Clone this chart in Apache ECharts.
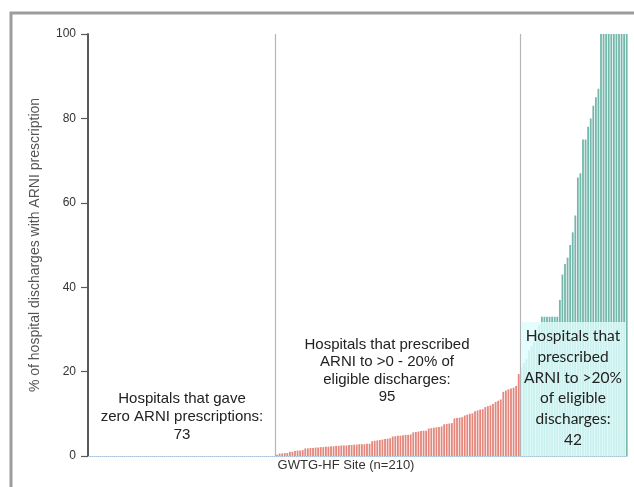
<!DOCTYPE html>
<html>
<head>
<meta charset="utf-8">
<script src="https://cdn.jsdelivr.net/npm/echarts@6/dist/echarts.min.js"></script>
<style>
  html, body { margin: 0; padding: 0; background: #fff; }
  #chart { width: 634px; height: 487px; }
</style>
</head>
<body>
<div id="chart"></div>
<script>
// hospitals sorted by % of eligible discharges with ARNI prescription
const zeroCount = 73
const lowValues = [
  0.3,
  0.6, 0.6, 0.7, 0.7,
  1.0, 1.0, 1.2, 1.3, 1.3, 1.4,
  1.8, 1.8, 1.9, 1.9, 2.0, 2.0, 2.1, 2.1, 2.2, 2.2,
  2.3, 2.3, 2.4, 2.4, 2.5, 2.5, 2.5, 2.6, 2.6, 2.7, 2.7, 2.8, 2.8, 2.8, 2.9, 2.9,
  3.5, 3.6, 3.7, 3.8, 3.9, 4.0, 4.1, 4.2,
  4.6, 4.7, 4.8, 4.8, 4.9, 5.0, 5.0, 5.1,
  5.6, 5.7, 5.8, 5.9, 6.0, 6.0,
  6.5, 6.6, 6.7, 6.8, 6.9, 7.0,
  7.5, 7.6, 7.7, 7.8,
  8.9, 9.0, 9.1, 9.2,
  9.6, 9.8, 10.0, 10.1,
  10.6, 10.8, 11.0, 11.1,
  11.6, 11.8, 12.0, 12.3,
  12.8, 13.1, 13.4,
  15.2, 15.5,
  15.8, 16.0, 16.2, 16.6,
  19.4
]
const highValues = [
  21, 22, 23, 25, 26, 27, 29, 31,
  33, 33, 33, 33, 33, 33, 33,
  37, 43, 45.5, 47, 50, 53, 57, 66, 67, 75, 75, 78, 80, 83, 85, 87,
  100, 100, 100, 100, 100, 100, 100, 100, 100, 100, 100
]
const yTicks = [0, 20, 40, 60, 80, 100]
const groupLabels = [
  'Hospitals that gave\nzero ARNI prescriptions:\n73',
  'Hospitals that prescribed\nARNI to >0 - 20% of\neligible discharges:\n95',
  'Hospitals that\nprescribed\nARNI to >20%\nof eligible\ndischarges:\n42'
]
const xTitle = 'GWTG-HF Site (n=210)'
const yTitle = '% of hospital discharges with ARNI prescription'

const total = zeroCount + lowValues.length + highValues.length
const lowStart = zeroCount
const highStart = zeroCount + lowValues.length

const toPairs = (arr, start) => arr.map((v, i) => [start + i + 0.5, v])

const chart = echarts.init(document.getElementById('chart'))

const option = {
  animation: false,
  grid: { left: 88, right: 6, top: 34, bottom: 31 },
  xAxis: {
    type: 'value',
    min: 0,
    max: total,
    axisLine: { show: true, lineStyle: { color: '#a8c2da', type: 'dotted', width: 1 } },
    axisTick: { show: false },
    axisLabel: { show: false },
    splitLine: { show: false }
  },
  yAxis: {
    type: 'value',
    min: yTicks[0],
    max: yTicks[yTicks.length - 1],
    interval: 20,
    offset: 2,
    name: yTitle,
    nameLocation: 'middle',
    nameGap: 44,
    nameTextStyle: { fontFamily: 'Liberation Sans', fontSize: 14, color: '#555' },
    axisLine: { show: true, lineStyle: { color: '#5a5a5a', width: 2 } },
    axisTick: { show: true, length: 7, lineStyle: { color: '#5a5a5a', width: 1.2 } },
    axisLabel: { fontFamily: 'Liberation Sans', fontSize: 12, color: '#333', margin: 10 },
    splitLine: { show: false }
  },
  series: [
    {
      type: 'bar',
      barWidth: 1.8,
      barGap: '-100%',
      itemStyle: { color: '#e4877d' },
      data: toPairs(lowValues, lowStart),
      markLine: {
        silent: true,
        symbol: 'none',
        label: { show: false },
        lineStyle: { color: '#b5b5b5', type: 'solid', width: 1.2 },
        data: [{ xAxis: lowStart }, { xAxis: highStart }]
      }
    },
    {
      type: 'bar',
      barWidth: 1.8,
      barGap: '-100%',
      itemStyle: { color: '#74b8ac' },
      data: toPairs(highValues, highStart)
    }
  ],
  graphic: [
    {
      type: 'rect',
      z: 0,
      shape: { x: 11, y: 13, width: 700, height: 600 },
      style: { fill: 'none', stroke: '#9c9c9c', lineWidth: 3 }
    },
    {
      type: 'rect',
      z: 50,
      shape: { x: 521, y: 322, width: 105, height: 134 },
      style: { fill: 'rgba(222,252,252,0.82)' }
    },
    {
      type: 'text',
      z: 60,
      x: 182, y: 390,
      style: {
        text: groupLabels[0], align: 'center', verticalAlign: 'top',
        fontFamily: 'Liberation Sans', fontSize: 15, lineHeight: 18, fill: '#222'
      }
    },
    {
      type: 'text',
      z: 60,
      x: 387, y: 336,
      style: {
        text: groupLabels[1], align: 'center', verticalAlign: 'top',
        fontFamily: 'Liberation Sans', fontSize: 15, lineHeight: 17.5, fill: '#222'
      }
    },
    {
      type: 'text',
      z: 60,
      x: 573, y: 326,
      style: {
        text: groupLabels[2], align: 'center', verticalAlign: 'top',
        fontFamily: 'Lato', fontSize: 15.5, lineHeight: 20.7, fill: '#222'
      }
    },
    {
      type: 'text',
      z: 60,
      x: 346, y: 459,
      style: {
        text: xTitle, align: 'center', verticalAlign: 'top',
        fontFamily: 'Liberation Sans', fontSize: 13, fill: '#333'
      }
    }
  ]
}

chart.setOption(option)
</script>
</body>
</html>
